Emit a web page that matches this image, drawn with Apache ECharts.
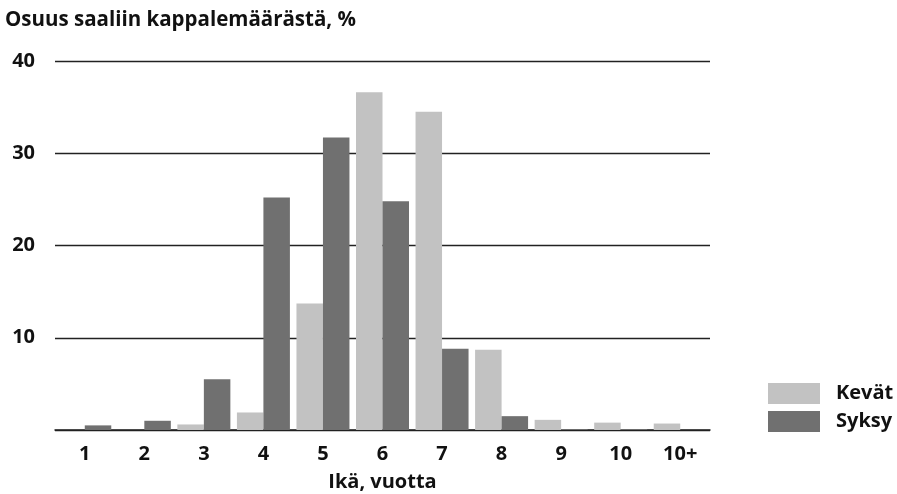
<!DOCTYPE html>
<html><head><meta charset="utf-8">
<script src="https://cdn.jsdelivr.net/npm/echarts@6/dist/echarts.min.js"></script>
<style>html,body{margin:0;padding:0;background:#fff}#c{width:897px;height:494px}</style>
</head><body><div id="c"></div>
<script>
const categories = ['1','2','3','4','5','6','7','8','9','10','10+'];
const kevat = [0, 0, 0.6, 1.9, 13.7, 36.6, 34.5, 8.7, 1.1, 0.8, 0.7];
const syksy = [0.5, 1.0, 5.5, 25.2, 31.7, 24.8, 8.8, 1.5, 0.1, 0.1, 0];
const yTicks = [0, 10, 20, 30, 40];
const FONT = '"Open Sans", "Noto Sans", sans-serif';
const chart = echarts.init(document.getElementById('c'));
chart.setOption({
  animation: false,
  textStyle: { fontFamily: FONT },
  title: {
    text: 'Osuus saaliin kappalemäärästä, %', left: 0, top: 5,
    textStyle: { fontFamily: FONT, fontSize: 20.5, fontWeight: 'bold', color: '#111' }
  },
  legend: {
    orient: 'vertical', left: 768, top: 383, itemWidth: 52, itemHeight: 21, itemGap: 7,
    icon: 'rect', padding: 0,
    textStyle: { fontFamily: FONT, fontSize: 20, fontWeight: 'bold', color: '#111', padding: [0, 0, 0, 11] },
    data: ['Kevät', 'Syksy']
  },
  grid: { left: 55, right: 187, top: 61, bottom: 64, containLabel: false, outerBoundsMode: 'none' },
  xAxis: {
    type: 'category', data: categories,
    name: 'Ikä, vuotta', nameLocation: 'middle', nameGap: 42,
    nameTextStyle: { fontFamily: FONT, fontSize: 20, fontWeight: 'bold', color: '#111' },
    axisLine: { lineStyle: { color: '#222', width: 1.5 } },
    axisTick: { show: false },
    axisLabel: { fontFamily: FONT, fontSize: 20, fontWeight: 'bold', color: '#111', margin: 14 }
  },
  yAxis: {
    type: 'value', min: yTicks[0], max: yTicks[yTicks.length - 1], interval: 10,
    axisLine: { show: false }, axisTick: { show: false },
    axisLabel: {
      fontFamily: FONT, fontSize: 20, fontWeight: 'bold', color: '#111', margin: 20,
      formatter: v => v === 0 ? '' : String(v)
    },
    splitLine: { lineStyle: { color: '#222', width: 1.3 } }
  },
  series: [
    { name: 'Kevät', type: 'bar', data: kevat, barGap: '0%', barCategoryGap: '11%',
      itemStyle: { color: '#c2c2c2' } },
    { name: 'Syksy', type: 'bar', data: syksy, barGap: '0%', barCategoryGap: '11%',
      itemStyle: { color: '#707070' } }
  ]
});
</script></body></html>
